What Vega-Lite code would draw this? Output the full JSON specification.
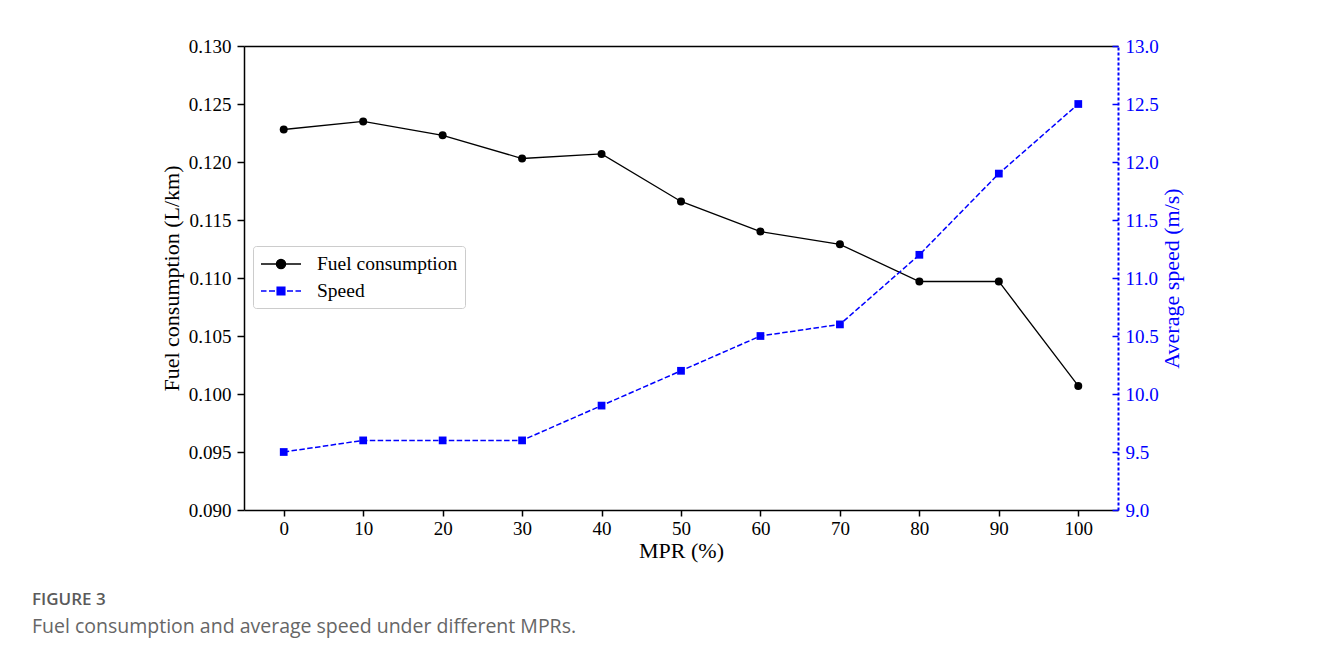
{
  "$schema": "https://vega.github.io/schema/vega-lite/v6.json",
  "autosize": {"type": "none"},
  "padding": {"left": 244, "top": 46, "right": 213, "bottom": 151},
  "width": 874,
  "height": 464,
  "background": "white",
  "title": {
    "text": "FIGURE 3",
    "subtitle": "Fuel consumption and average speed under different MPRs.",
    "orient": "bottom",
    "anchor": "start",
    "frame": "group",
    "dx": -212,
    "offset": 31,
    "font": "Open Sans",
    "fontSize": 17,
    "fontWeight": 600,
    "color": "#5a5a5a",
    "subtitleFont": "Open Sans",
    "subtitleFontSize": 19.5,
    "subtitleColor": "#666666",
    "subtitlePadding": 9
  },
  "data": {
    "values": [
      {"MPR": 0, "series": "Fuel consumption", "value": 0.1228},
      {"MPR": 10, "series": "Fuel consumption", "value": 0.1235},
      {"MPR": 20, "series": "Fuel consumption", "value": 0.1223},
      {"MPR": 30, "series": "Fuel consumption", "value": 0.1203},
      {"MPR": 40, "series": "Fuel consumption", "value": 0.1207},
      {"MPR": 50, "series": "Fuel consumption", "value": 0.1166},
      {"MPR": 60, "series": "Fuel consumption", "value": 0.1140},
      {"MPR": 70, "series": "Fuel consumption", "value": 0.1129},
      {"MPR": 80, "series": "Fuel consumption", "value": 0.1097},
      {"MPR": 90, "series": "Fuel consumption", "value": 0.1097},
      {"MPR": 100, "series": "Fuel consumption", "value": 0.1007},
      {"MPR": 0, "series": "Speed", "value": 9.5},
      {"MPR": 10, "series": "Speed", "value": 9.6},
      {"MPR": 20, "series": "Speed", "value": 9.6},
      {"MPR": 30, "series": "Speed", "value": 9.6},
      {"MPR": 40, "series": "Speed", "value": 9.9},
      {"MPR": 50, "series": "Speed", "value": 10.2},
      {"MPR": 60, "series": "Speed", "value": 10.5},
      {"MPR": 70, "series": "Speed", "value": 10.6},
      {"MPR": 80, "series": "Speed", "value": 11.2},
      {"MPR": 90, "series": "Speed", "value": 11.9},
      {"MPR": 100, "series": "Speed", "value": 12.5}
    ]
  },
  "layer": [
    {
      "transform": [{"filter": "datum.series === 'Fuel consumption'"}],
      "encoding": {
        "x": {
          "field": "MPR", "type": "quantitative",
          "scale": {"domain": [-5, 105], "nice": false, "zero": false},
          "axis": {"orient": "bottom", "values": [0, 10, 20, 30, 40, 50, 60, 70, 80, 90, 100], "title": "MPR (%)", "tickSize": 6, "labelPadding": 3, "titlePadding": 2}
        },
        "y": {
          "field": "value", "type": "quantitative",
          "scale": {"domain": [0.09, 0.13], "nice": false, "zero": false},
          "axis": {"orient": "left", "values": [0.09, 0.095, 0.1, 0.105, 0.11, 0.115, 0.12, 0.125, 0.13], "format": ".3f", "title": "Fuel consumption (L/km)", "titlePadding": 5}
        }
      },
      "layer": [
        {"mark": {"type": "line", "color": "black", "strokeWidth": 1.3}},
        {"mark": {"type": "point", "shape": "circle", "filled": true, "color": "black", "size": 64, "opacity": 1}}
      ]
    },
    {
      "transform": [{"filter": "datum.series === 'Speed'"}],
      "encoding": {
        "x": {
          "field": "MPR", "type": "quantitative",
          "axis": {"orient": "top", "labels": false, "ticks": false, "title": null, "domainColor": "black"}
        },
        "y": {
          "field": "value", "type": "quantitative",
          "scale": {"domain": [9, 13], "nice": false, "zero": false},
          "axis": {"orient": "right", "values": [9, 9.5, 10, 10.5, 11, 11.5, 12, 12.5, 13], "format": ".1f", "title": "Average speed (m/s)", "titleAngle": 270, "titleBaseline": "top", "labelColor": "blue", "titleColor": "blue", "domainColor": "blue", "tickColor": "blue", "domainDash": [3, 2], "domainWidth": 2, "tickSize": -6, "labelPadding": 13, "titlePadding": 3}
        }
      },
      "layer": [
        {"mark": {"type": "line", "color": "blue", "strokeWidth": 1.5, "strokeDash": [5.5, 2.4]}},
        {"mark": {"type": "point", "shape": "square", "filled": true, "color": "blue", "size": 60, "opacity": 1}}
      ]
    },
    {
      "mark": {"type": "point", "opacity": 0, "size": 400, "strokeWidth": 1.5},
      "encoding": {
        "x": {"field": "MPR", "type": "quantitative", "axis": null},
        "fill": {
          "field": "series", "type": "nominal",
          "scale": {"domain": ["Fuel consumption", "Speed"], "range": ["black", "blue"]},
          "legend": {"title": null, "orient": "none", "legendX": 9, "legendY": 200, "symbolSize": 400, "symbolOpacity": 1, "symbolStrokeWidth": 1.5, "symbolOffset": 10, "labelOffset": 25, "rowPadding": 6, "padding": 7, "strokeColor": "#cccccc", "fillColor": "white", "cornerRadius": 3, "labelFont": "Liberation Serif", "labelFontSize": 19.5, "labelColor": "black"}
        },
        "stroke": {
          "field": "series", "type": "nominal",
          "scale": {"domain": ["Fuel consumption", "Speed"], "range": ["black", "blue"]},
          "legend": {"title": null, "orient": "none", "legendX": 9, "legendY": 200, "symbolSize": 400, "symbolOpacity": 1, "symbolStrokeWidth": 1.5, "symbolOffset": 10, "labelOffset": 25, "rowPadding": 6, "padding": 7, "strokeColor": "#cccccc", "fillColor": "white", "cornerRadius": 3, "labelFont": "Liberation Serif", "labelFontSize": 19.5, "labelColor": "black"}
        },
        "shape": {
          "field": "series", "type": "nominal",
          "scale": {"domain": ["Fuel consumption", "Speed"], "range": ["M-2,0H2M0.45,0A0.45,0.45,0,1,1,-0.45,0A0.45,0.45,0,1,1,0.45,0Z", "M-2,0H-1.45M-1.2,0H-0.6M0.6,0H1.2M1.45,0H2M-0.38,-0.38H0.38V0.38H-0.38Z"]},
          "legend": {"title": null, "orient": "none", "legendX": 9, "legendY": 200, "symbolSize": 400, "symbolOpacity": 1, "symbolStrokeWidth": 1.5, "symbolOffset": 10, "labelOffset": 25, "rowPadding": 6, "padding": 7, "strokeColor": "#cccccc", "fillColor": "white", "cornerRadius": 3, "labelFont": "Liberation Serif", "labelFontSize": 19.5, "labelColor": "black"}
        }
      }
    }
  ],
  "resolve": {"scale": {"y": "independent"}, "axis": {"x": "independent"}},
  "config": {
    "view": {"stroke": null},
    "axis": {
      "labelFont": "Liberation Serif", "titleFont": "Liberation Serif",
      "labelFontSize": 19, "titleFontSize": 22, "titleFontWeight": "normal",
      "grid": false, "labelColor": "black", "titleColor": "black",
      "domainColor": "black", "tickColor": "black",
      "domainWidth": 1.5, "tickWidth": 1.5, "tickSize": 7, "labelPadding": 6
    }
  }
}
